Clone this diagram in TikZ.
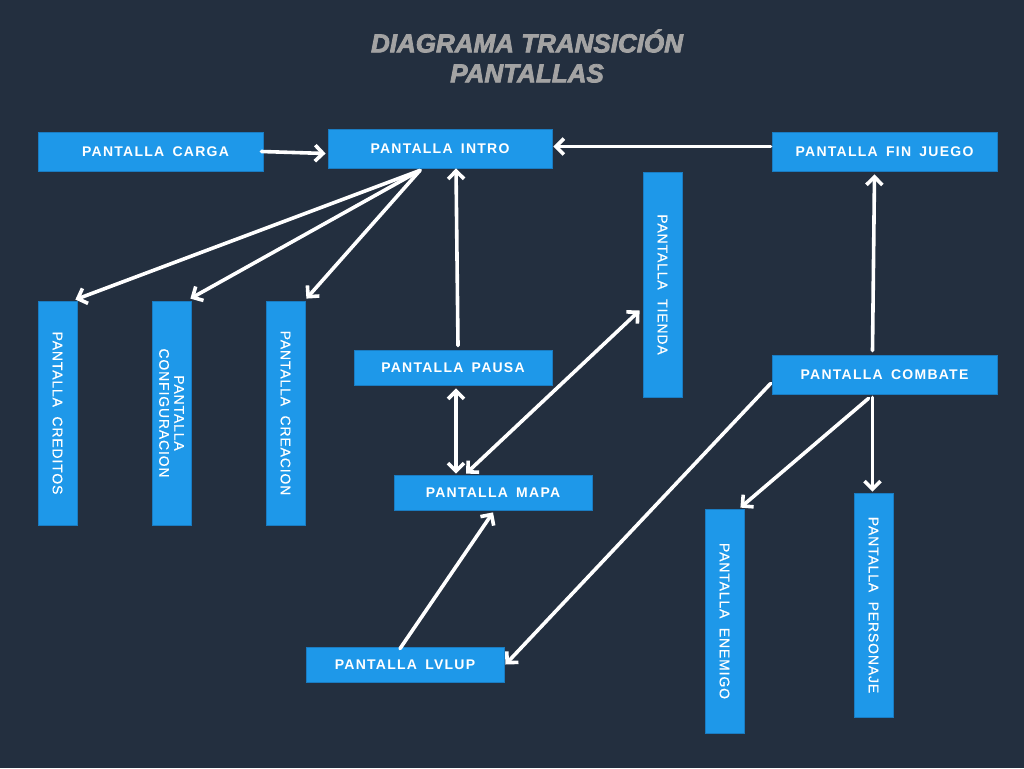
\documentclass[tikz,border=0pt]{standalone}
\usepackage{fontspec}
\usetikzlibrary{arrows.meta,calc}
\newfontfamily\boxfont[LetterSpace=9,WordSpace=1.6]{Liberation Sans}
\newfontfamily\vertfont[LetterSpace=6,WordSpace=2,FakeBold=0.4]{Liberation Sans}
\newfontfamily\titlefont{Liberation Sans}[BoldItalicFeatures={FakeBold=3}]
\definecolor{bgnavy}{HTML}{232F3F}
\definecolor{boxblue}{HTML}{1E98E9}
\definecolor{boxedge}{HTML}{1A7CC2}
\definecolor{titlegrey}{HTML}{A3A3A3}
\tikzset{
  hbox/.style={rectangle, fill=boxblue, draw=boxedge, line width=0.8pt, inner sep=0pt,
    text=white, font=\boxfont\bfseries\fontsize{14}{16}\selectfont},
  vbox/.style={rectangle, fill=boxblue, draw=boxedge, line width=0.8pt, inner sep=0pt,
    rotate=-90, minimum width=224pt, minimum height=39pt, align=center,
    text=white, font=\vertfont\fontsize{14}{15}\selectfont},
  link/.style={draw=white, line width=3.6pt, line cap=round, line join=round},
}
\begin{document}
\begin{tikzpicture}[x=1pt, y=-1pt, >={Straight Barb[length=8pt, width=16pt]}]
    \fill[bgnavy] (0,0) rectangle (1024,768);
    \useasboundingbox (0,0) rectangle (1024,768);

    \node[text=titlegrey, align=center, font=\titlefont\bfseries\itshape\fontsize{26}{30}\selectfont]
      (title) at (527,56) {DIAGRAMA TRANSICIÓN\\PANTALLAS};

    \node[hbox, minimum width=225pt, minimum height=39pt] (carga) at (150.5,151.5) {\hspace*{10pt}PANTALLA CARGA};
    \node[hbox, minimum width=224pt, minimum height=39pt] (intro) at (440,148.5) {PANTALLA INTRO};
    \node[hbox, minimum width=225pt, minimum height=39pt] (fin) at (884.5,151.5) {PANTALLA FIN JUEGO};
    \node[vbox, minimum width=225pt] (tienda) at (662.5,284.5) {PANTALLA TIENDA};
    \node[vbox] (cred) at (57.5,413) {PANTALLA CREDITOS};
    \node[vbox] (conf) at (171.5,413) {PANTALLA\\CONFIGURACION};
    \node[vbox] (crea) at (285.5,413) {PANTALLA CREACION};
    \node[hbox, minimum width=198pt, minimum height=35pt] (pausa) at (453,367.5) {PANTALLA PAUSA};
    \node[hbox, minimum width=198pt, minimum height=35pt] (mapa) at (493,492.5) {PANTALLA MAPA};
    \node[hbox, minimum width=225pt, minimum height=39pt] (combate) at (884.5,374.5) {PANTALLA COMBATE};
    \node[vbox] (enemigo) at (724.5,621) {PANTALLA ENEMIGO};
    \node[vbox] (personaje) at (873.5,605) {PANTALLA PERSONAJE};
    \node[hbox, minimum width=198pt, minimum height=35pt] (lvlup) at (405,664.5) {PANTALLA LVLUP};

    % transiciones
    \draw[link, ->] ($(carga.east)+(-2,0)$) -- ($(intro.west)+(-2,5)$);
    \draw[link, ->] ($(fin.west)+(-1,-5)$) -- ($(intro.east)+(1,-2)$);
    \draw[link, ->] ($(intro.south)+(-20,2)$) -- ($(cred.north west)+(-2,-1)$);
    \draw[link, ->] ($(intro.south)+(-20,2)$) -- ($(conf.north west)+(-1,-2)$);
    \draw[link, ->] ($(intro.south)+(-20,2)$) -- ($(crea.north west)+(1,-2)$);
    \draw[link, ->] ($(pausa.north)+(5,-4)$) -- ($(intro.south)+(16,0)$);
    \draw[link, <->] ($(pausa.south)+(3,3)$) -- ($(mapa.north)+(-37,-1)$);
    \draw[link, <->] ($(mapa.north)+(-27,-1)$) -- ($(tienda.south)+(-3,26)$);
    \draw[link, ->] ($(lvlup.north)+(-5,2)$) -- ($(mapa.south)+(0,2)$);
    \draw[link, ->] ($(combate.west)+(-1,9)$) -- ($(lvlup.east)+(1,0)$);
    \draw[link, ->] ($(combate.north)+(-12,-4)$) -- ($(fin.south)+(-10,3)$);
    \draw[link, ->] ($(combate.south)+(-16,4)$) -- ($(enemigo.north west)+(-4,-1)$);
    \draw[link, ->] ($(combate.south)+(-12,3)$) -- ($(personaje.west)+(-1,-1)$);
  \end{tikzpicture}
\end{document}
